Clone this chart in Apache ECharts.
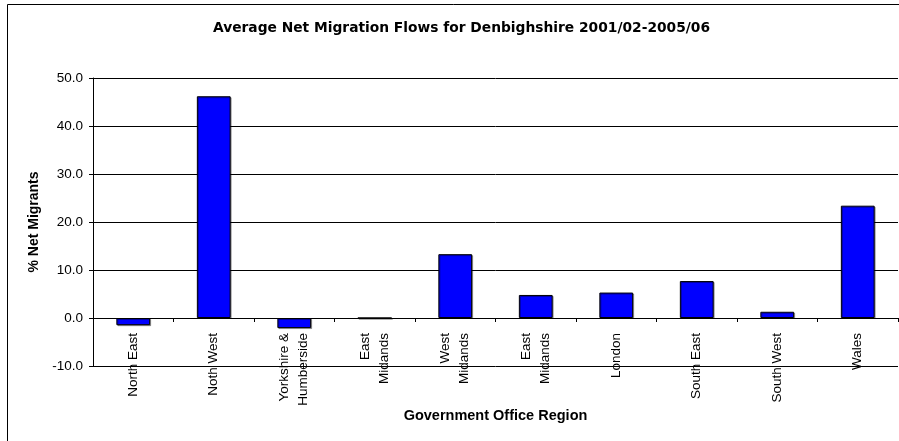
<!DOCTYPE html>
<html>
<head>
<meta charset="utf-8">
<script src="https://cdn.jsdelivr.net/npm/echarts@6/dist/echarts.min.js"></script>
<style>
  html, body { margin: 0; padding: 0; background: #fff; }
  #chart { width: 899px; height: 441px; }
</style>
</head>
<body>
<div id="chart"></div>
<script>
const regions = [
  'North East', 'Noth West', 'Yorkshire &\nHumberside', 'East\nMidands', 'West\nMidands',
  'East\nMidands', 'London', 'South East', 'South West', 'Wales',
];
const netMigrants = [-1.5, 46.2, -2.1, 0, 13.3, 4.8, 5.3, 7.7, 1.3, 23.4];
const yTicks = { min: -10, max: 50, interval: 10 };

const font = 'Arial, "Liberation Sans", sans-serif';
const chart = echarts.init(document.getElementById('chart'));

chart.setOption({
  animation: false,
  textStyle: { fontFamily: font, color: '#000' },
  title: {
    text: 'Average Net Migration Flows for Denbighshire 2001/02-2005/06',
    left: 208,
    top: 16,
    textStyle: { fontFamily: '"DejaVu Sans", sans-serif', fontSize: 13.8, fontWeight: 'bold', color: '#000' },
  },
  graphic: [
    {
      type: 'rect',
      shape: { x: 7.5, y: 4.5, width: 1000, height: 1000 },
      style: { fill: 'none', stroke: '#000', lineWidth: 1 },
      silent: true,
    },
  ],
  grid: { left: 93, right: 1, top: 78, bottom: 75, outerBoundsMode: 'none', containLabel: false },
  xAxis: {
    type: 'category',
    data: regions,
    name: 'Government Office Region',
    nameLocation: 'middle',
    nameGap: 42,
    nameMoveOverlap: false,
    nameTextStyle: { fontFamily: font, fontSize: 14.5, fontWeight: 'bold', color: '#000' },
    axisLine: { onZero: true, lineStyle: { color: '#000', width: 1 } },
    axisTick: { show: true, length: 4, lineStyle: { color: '#000' } },
    axisLabel: {
      rotate: 90,
      interval: 0,
      margin: -33,
      fontSize: 13.5,
      lineHeight: 19,
      color: '#000',
      fontFamily: font,
    },
  },
  yAxis: {
    type: 'value',
    min: yTicks.min,
    max: yTicks.max,
    interval: yTicks.interval,
    name: '% Net Migrants',
    nameLocation: 'middle',
    nameGap: 51,
    nameTextStyle: { fontFamily: font, fontSize: 14, fontWeight: 'bold', color: '#000' },
    axisLine: { show: true, lineStyle: { color: '#000', width: 1 } },
    axisTick: { show: true, length: 4, lineStyle: { color: '#000' } },
    axisLabel: {
      margin: 10,
      fontSize: 13.5,
      color: '#000',
      fontFamily: font,
      formatter: (v) => v.toFixed(1),
    },
    splitLine: { show: true, lineStyle: { color: '#000', width: 1 } },
  },
  series: [
    {
      type: 'bar',
      data: netMigrants,
      barWidth: '42%',
      itemStyle: {
        color: '#0000ff',
        borderColor: '#000',
        borderWidth: 1,
        shadowColor: 'rgba(0,0,0,0.35)',
        shadowOffsetX: 1,
        shadowOffsetY: 1,
      },
    },
  ],
});

window.addEventListener('resize', () => chart.resize());
</script>
</body>
</html>
